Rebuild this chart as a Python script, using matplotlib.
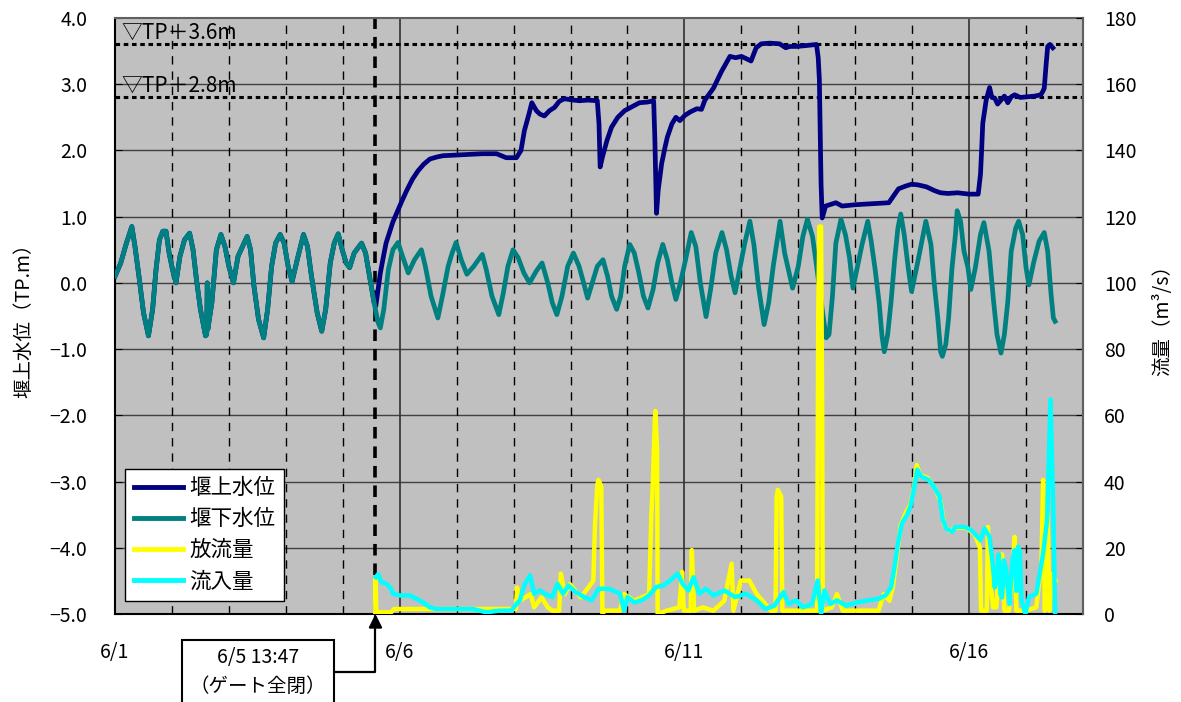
import matplotlib
matplotlib.use('Agg')
import matplotlib.pyplot as plt
from matplotlib.lines import Line2D

plt.rcParams['font.family'] = ['Noto Sans CJK JP', 'DejaVu Sans']

# time axis: days counted from 6/1 00:00
gate_close = 4 + (13 + 47 / 60) / 24   # 6/5 13:47

# 堰下水位 (TP.m)
down_t = [0.00, 0.10, 0.20, 0.295, 0.35, 0.42, 0.50, 0.587, 0.66, 0.72, 0.78, 0.84, 0.895, 0.95,
          1.01, 1.07, 1.14, 1.22, 1.31, 1.37, 1.43, 1.50, 1.59, 1.61, 1.62, 1.63, 1.70, 1.78, 1.86,
          1.93, 2.00, 2.08, 2.16, 2.24, 2.32, 2.38, 2.44, 2.52, 2.61, 2.68, 2.75, 2.82, 2.90, 2.97,
          3.04, 3.11, 3.20, 3.31, 3.38, 3.45, 3.55, 3.63, 3.70, 3.78, 3.85, 3.92, 3.99, 4.06, 4.12,
          4.20, 4.33, 4.40, 4.47, 4.55, 4.62, 4.66, 4.72, 4.80, 4.88, 4.97, 5.05, 5.15, 5.26, 5.38,
          5.45, 5.55, 5.67, 5.75, 5.85, 5.92, 5.99, 6.08, 6.18, 6.30, 6.45, 6.52, 6.62, 6.74, 6.82,
          6.90, 6.99, 7.08, 7.18, 7.28, 7.40, 7.50, 7.60, 7.68, 7.76, 7.85, 7.95, 8.05, 8.15, 8.23,
          8.30, 8.40, 8.47, 8.57, 8.65, 8.72, 8.81, 8.88, 8.95, 9.04, 9.12, 9.20, 9.28, 9.36, 9.45,
          9.53, 9.62, 9.70, 9.78, 9.85, 9.93, 10.02, 10.12, 10.20, 10.28, 10.38, 10.46, 10.55, 10.66,
          10.74, 10.82, 10.89, 10.98, 11.06, 11.15, 11.22, 11.30, 11.40, 11.48, 11.56, 11.68, 11.76,
          11.90, 12.00, 12.08, 12.16, 12.25, 12.33, 12.42, 12.49, 12.54, 12.60, 12.66, 12.75, 12.83,
          12.90, 12.96, 13.04, 13.12, 13.22, 13.28, 13.35, 13.42, 13.47, 13.51, 13.57, 13.63, 13.69,
          13.75, 13.80, 13.86, 13.93, 13.99, 14.09, 14.17, 14.24, 14.33, 14.39, 14.45, 14.50, 14.53,
          14.59, 14.64, 14.70, 14.76, 14.79, 14.85, 14.91, 14.98, 15.03, 15.11, 15.20, 15.26, 15.35,
          15.43, 15.49, 15.56, 15.62, 15.68, 15.74, 15.82, 15.87, 15.94, 16.00, 16.05, 16.14, 16.23,
          16.32, 16.38, 16.44, 16.48, 16.51]
down_lv = [0.10, 0.30, 0.60, 0.85, 0.55, 0.10, -0.45, -0.80, -0.40, 0.20, 0.65, 0.78, 0.78, 0.45,
           0.20, 0.00, 0.40, 0.65, 0.75, 0.50, 0.05, -0.40, -0.80, -0.78, 0.00, -0.70, -0.30, 0.50, 0.73,
           0.55, 0.25, 0.00, 0.40, 0.55, 0.70, 0.50, -0.05, -0.55, -0.83, -0.40, 0.25, 0.60, 0.73, 0.60,
           0.25, 0.02, 0.35, 0.73, 0.55, 0.10, -0.45, -0.73, -0.40, 0.30, 0.60, 0.74, 0.50, 0.30, 0.23,
           0.45, 0.60, 0.45, 0.10, -0.30, -0.60, -0.68, -0.40, 0.20, 0.50, 0.61, 0.40, 0.15, 0.35, 0.50,
           0.25, -0.20, -0.53, -0.20, 0.25, 0.45, 0.61, 0.35, 0.13, 0.25, 0.43, 0.20, -0.20, -0.48, -0.15,
           0.25, 0.50, 0.38, 0.15, 0.00, 0.18, 0.30, 0.00, -0.30, -0.48, -0.20, 0.25, 0.45, 0.25, 0.00,
           -0.23, 0.05, 0.25, 0.35, 0.10, -0.20, -0.40, -0.20, 0.25, 0.58, 0.45, 0.15, -0.20, -0.38, -0.10,
           0.30, 0.58, 0.35, 0.00, -0.25, 0.00, 0.35, 0.76, 0.55, 0.00, -0.51, -0.10, 0.45, 0.76,
           0.50, 0.10, -0.15, 0.25, 0.60, 0.93, 0.58, -0.05, -0.63, -0.30, 0.25, 0.93, 0.45,
           -0.08, 0.25, 0.70, 0.96, 0.70, 0.20, -0.40, -0.83, -0.78, -0.20, 0.60, 0.96, 0.72,
           0.38, -0.08, 0.25, 0.58, 0.93, 0.63, 0.20, -0.30, -0.80, -1.04, -0.78, -0.28, 0.33,
           0.83, 1.04, 0.73, 0.23, -0.13, 0.28, 0.63, 0.93, 0.58, -0.03, -0.53, -1.04, -1.11,
           -0.93, -0.53, 0.23, 0.73, 1.09, 0.93, 0.48, 0.23, -0.10, 0.23, 0.73, 0.91, 0.48,
           -0.28, -0.78, -1.06, -0.78, -0.28, 0.48, 0.83, 0.93, 0.73, 0.23, -0.03, 0.33, 0.63,
           0.76, 0.48, -0.18, -0.53, -0.58]

# 堰上水位 after the gate closed (before that it equals 堰下水位)
up_t_after = [4.58, 4.62, 4.66, 4.71, 4.76, 4.82, 4.88, 4.94, 5.03, 5.12, 5.22, 5.32, 5.42, 5.53,
              5.65, 5.76, 6.00, 6.23, 6.45, 6.70, 6.87, 7.05, 7.13, 7.19, 7.27, 7.32, 7.40, 7.46,
              7.54, 7.63, 7.72, 7.80, 7.89, 8.05, 8.16, 8.30, 8.47, 8.50, 8.52, 8.56, 8.64, 8.72,
              8.83, 8.95, 9.08, 9.21, 9.35, 9.46, 9.48, 9.51, 9.54, 9.60, 9.66, 9.70, 9.78, 9.85,
              9.92, 10.01, 10.10, 10.22, 10.30, 10.36, 10.51, 10.65, 10.80, 10.90, 11.00, 11.10,
              11.17, 11.26, 11.35, 11.50, 11.67, 11.78, 11.85, 11.96, 12.10, 12.32, 12.35, 12.37,
              12.39, 12.40, 12.42, 12.48, 12.55, 12.66, 12.77, 13.00, 13.20, 13.41, 13.59, 13.68,
              13.76, 13.88, 13.99, 14.10, 14.25, 14.40, 14.50, 14.63, 14.80, 15.00, 15.16, 15.20,
              15.22, 15.24, 15.30, 15.36, 15.40, 15.45, 15.50, 15.56, 15.62, 15.68, 15.74, 15.80,
              15.90, 16.03, 16.15, 16.26, 16.30, 16.32, 16.35, 16.38, 16.42, 16.47]
up_lv_after = [-0.35, -0.10, 0.15, 0.38, 0.60, 0.76, 0.92, 1.04, 1.22, 1.39, 1.56, 1.69, 1.79, 1.87,
               1.90, 1.92, 1.93, 1.94, 1.95, 1.95, 1.89, 1.89, 2.00, 2.30, 2.55, 2.72, 2.60, 2.55,
               2.52, 2.60, 2.65, 2.74, 2.78, 2.76, 2.75, 2.76, 2.75, 2.40, 1.75, 1.90, 2.15, 2.35,
               2.50, 2.60, 2.66, 2.72, 2.73, 2.75, 2.20, 1.05, 1.40, 1.80, 2.05, 2.20, 2.40, 2.50,
               2.45, 2.53, 2.58, 2.63, 2.62, 2.76, 2.94, 3.19, 3.42, 3.40, 3.42, 3.38,
               3.35, 3.55, 3.61, 3.62, 3.61, 3.55, 3.57, 3.57, 3.58, 3.60, 3.40, 3.07,
               2.00, 1.49, 0.98, 1.16, 1.18, 1.21, 1.16, 1.18, 1.19, 1.20, 1.21, 1.32,
               1.42, 1.46, 1.49, 1.48, 1.45, 1.39, 1.36, 1.35, 1.36, 1.34, 1.34, 1.64,
               2.00, 2.41, 2.76, 2.95, 2.80, 2.79, 2.70, 2.76, 2.82, 2.72, 2.81, 2.84,
               2.80, 2.81, 2.82, 2.84, 2.90, 2.94, 3.27, 3.57, 3.60, 3.55]

# 放流量 (m3/s)
out_t = [4.57, 4.575, 4.59, 4.85, 4.90, 7.04, 7.06, 7.11, 7.30, 7.36, 7.49, 7.60, 7.68, 7.80, 7.83,
         7.90, 7.99, 8.18, 8.40, 8.43, 8.47, 8.49, 8.54, 8.56, 8.60, 8.87, 8.94, 9.12, 9.38, 9.42,
         9.44, 9.48, 9.49, 9.52, 9.53, 9.69, 9.91, 9.96, 9.99, 10.11, 10.13, 10.17, 10.32, 10.51,
         10.70, 10.83, 10.86, 10.99, 11.14, 11.27, 11.52, 11.60, 11.62, 11.64, 11.70, 11.72, 12.25,
         12.33, 12.35, 12.37, 12.40, 12.42, 12.43, 12.59, 12.68, 12.78, 13.41, 13.50, 13.60, 13.66,
         13.72, 13.80, 13.90, 13.97, 14.04, 14.08, 14.14, 14.28, 14.40, 14.50, 14.56, 14.66, 14.76,
         14.95, 15.10, 15.19, 15.21, 15.31, 15.33, 15.37, 15.42, 15.48, 15.52, 15.58, 15.62, 15.70,
         15.76, 15.80, 15.83, 15.99, 16.18, 16.27, 16.30, 16.33, 16.38, 16.41, 16.46, 16.52]
out_q = [0.0, 11.0, 0.5, 0.5, 1.5, 1.5, 8.0, 4.0, 6.0, 2.0, 5.0, 2.0, 1.0, 1.0, 12.2,
         6.0, 9.0, 5.0, 10.0, 27.0, 39.0, 40.5, 38.5, 0.0, 1.0, 1.0, 6.0, 4.0, 6.0, 30.0,
         37.5, 58.0, 61.3, 50.0, 0.0, 1.0, 2.0, 12.7, 1.0, 1.0, 19.3, 1.0, 2.0, 1.0,
         4.0, 15.2, 1.0, 10.1, 10.1, 6.0, 1.0, 1.0, 35.0, 37.5, 35.5, 1.0, 1.0,
         1.0, 90.0, 117.0, 117.0, 60.0, 1.0, 2.0, 6.0, 1.0, 1.0, 6.0, 4.0, 8.0,
         16.0, 27.0, 31.0, 33.0, 39.0, 45.0, 42.0, 41.0, 38.0, 34.0, 27.0, 25.0, 26.0,
         26.0, 24.0, 20.0, 1.0, 1.0, 26.3, 10.0, 2.0, 2.0, 15.0, 18.0, 1.0, 1.0,
         12.0, 23.3, 1.0, 1.0, 2.0, 15.0, 40.5, 1.0, 30.0, 1.0, 12.0, 10.0]

# 流入量 (m3/s)
in_t = [4.58, 4.62, 4.68, 4.77, 4.85, 4.88, 5.00, 5.18, 5.29, 5.41, 5.53, 5.64, 6.05, 6.29, 6.52,
        6.75, 6.96, 7.05, 7.11, 7.16, 7.20, 7.29, 7.36, 7.46, 7.55, 7.68, 7.77, 7.87, 7.96, 8.09,
        8.24, 8.37, 8.49, 8.68, 8.87, 8.94, 9.00, 9.12, 9.25, 9.38, 9.50, 9.63, 9.75, 9.88, 9.97,
        10.07, 10.16, 10.26, 10.38, 10.51, 10.70, 10.89, 11.08, 11.27, 11.42, 11.58, 11.74, 11.83,
        11.96, 12.08, 12.24, 12.34, 12.40, 12.46, 12.56, 12.68, 12.84, 13.03, 13.22, 13.41, 13.53,
        13.63, 13.69, 13.75, 13.82, 13.91, 13.97, 14.04, 14.09, 14.16, 14.29, 14.38, 14.48, 14.54,
        14.60, 14.70, 14.76, 14.92, 15.04, 15.20, 15.27, 15.36, 15.42, 15.45, 15.49, 15.52, 15.55,
        15.58, 15.61, 15.64, 15.68, 15.71, 15.74, 15.77, 15.80, 15.83, 15.86, 15.89, 15.92, 15.99,
        16.05, 16.18, 16.30, 16.37, 16.43, 16.48, 16.51]
in_q = [11.1, 12.0, 9.6, 9.1, 7.6, 6.1, 5.6, 5.6, 4.6, 3.5, 2.0, 1.5, 1.5, 1.5, 0.5,
        1.0, 1.0, 3.0, 4.1, 7.1, 9.1, 11.7, 6.1, 7.1, 6.1, 5.1, 9.1, 6.1, 8.6, 6.6,
        5.1, 4.1, 7.6, 7.6, 6.1, 1.0, 5.1, 3.5, 4.1, 5.6, 8.1, 8.6, 10.1, 12.2, 9.1,
        7.1, 11.1, 6.1, 7.6, 5.6, 7.1, 5.1, 6.1, 4.1, 1.5, 2.5, 6.6, 3.0,
        4.1, 2.0, 3.0, 10.1, 0.0, 7.1, 3.0, 4.1, 2.5, 3.5, 4.1, 4.6, 5.6,
        8.1, 14.2, 21.3, 27.4, 29.9, 32.4, 38.5, 43.6, 41.5, 40.5, 38.5, 35.5, 28.4,
        25.8, 24.8, 26.3, 26.3, 25.3, 22.3, 25.8, 23.3, 14.2, 8.0, 11.1, 18.0, 6.1,
        5.0, 16.2, 14.0, 8.1, 3.0, 12.0, 17.0, 19.3, 7.0, 20.3, 19.0, 4.1, 0.0,
        5.1, 6.1, 18.2, 28.4, 64.8, 30.4, 0.0]

date_ticks = [0, 5, 10, 15]
date_labels = ['6/1', '6/6', '6/11', '6/16']
mark_levels = [3.6, 2.8]
mark_labels = ['▽TP＋3.6m', '▽TP＋2.8m']

# upstream level: same as downstream until the gate closed
pre = [i for i, t in enumerate(down_t) if t < gate_close]
up_t = [down_t[i] for i in pre] + up_t_after
up_lv = [down_lv[i] for i in pre] + up_lv_after

fig = plt.figure(figsize=(11.81, 7.02), dpi=100)
ax = fig.add_axes([0.0974, 0.1254, 0.8196, 0.849])
ax.set_facecolor('#C0C0C0')

# grid: solid every 1.0 m and every 5 days, dashed for each day
for v in range(-4, 4):
    ax.axhline(v, color='#404040', lw=1, zorder=1)
for d in range(1, 17):
    if d % 5 == 0:
        ax.axvline(d, color='#303030', lw=1.2, zorder=1)
    else:
        ax.axvline(d, color='black', lw=1, linestyle=(0, (6, 5)), zorder=1)

for lv, lab in zip(mark_levels, mark_labels):
    ax.axhline(lv, color='black', lw=2.2, linestyle=(0, (1.5, 1.2)), zorder=2)
    ax.text(0.12, lv + 0.01, lab, fontsize=15, va='bottom', ha='left', zorder=3)

ax.axvline(gate_close, color='black', lw=2.6, linestyle=(0, (3.2, 2.2)), zorder=2)

ax.plot(up_t, up_lv, color='#000080', lw=3.4, zorder=4, solid_joinstyle='round')
ax.plot(down_t, down_lv, color='#008080', lw=3.4, zorder=5, solid_joinstyle='round')

ax.set_xlim(0, 17)
ax.set_ylim(-5, 4)
ax.set_yticks(range(-5, 5))
ax.set_yticklabels([f'{v:.1f}'.replace('-', '\u2212') for v in range(-5, 5)])
ax.set_xticks(date_ticks)
ax.set_xticklabels(date_labels)
ax.tick_params(axis='x', length=0, pad=20, labelsize=14)
ax.tick_params(axis='y', direction='in', length=5, pad=20, labelsize=14)
ax.set_ylabel('堰上水位（TP.m）', fontsize=14)
ax.yaxis.set_label_coords(-0.083, 0.5)

for side in ['left', 'bottom']:
    ax.spines[side].set_color('black')
    ax.spines[side].set_linewidth(1.5)
for side in ['top', 'right']:
    ax.spines[side].set_color('#606060')
    ax.spines[side].set_linewidth(1.5)

ax2 = ax.twinx()
ax2.plot(out_t, out_q, color='#FFFF00', lw=3.2, zorder=3)
ax2.plot(in_t, in_q, color='#00FFFF', lw=3.2, zorder=4)
ax2.set_ylim(0, 180)
ax2.set_yticks(range(0, 181, 20))
ax2.tick_params(axis='y', direction='in', length=5, pad=15, labelsize=14)
ax2.set_ylabel('流量（m³/s）', fontsize=14)
ax2.yaxis.set_label_coords(1.072, 0.5)
for side in ['left', 'bottom']:
    ax2.spines[side].set_visible(False)
ax2.spines['right'].set_color('#606060')
ax2.spines['right'].set_linewidth(1.5)
ax2.spines['top'].set_visible(False)

handles = [Line2D([], [], color=c, lw=3.5) for c in ['#000080', '#008080', '#FFFF00', '#00FFFF']]
leg = ax2.legend(handles, ['堰上水位', '堰下水位', '放流量', '流入量'],
                 loc='lower left', bbox_to_anchor=(0.0103, 0.022), borderaxespad=0,
                 fontsize=15.5, handlelength=2.3, labelspacing=0.42, borderpad=0.4,
                 handletextpad=0.3, fancybox=False, framealpha=1, edgecolor='black')
leg.get_frame().set_linewidth(1.0)

ax2.annotate('6/5 13:47\n（ゲート全閉）', xy=(gate_close, 0), xycoords='data',
             xytext=(258, 30), textcoords='figure pixels', ha='center', va='center',
             fontsize=14, linespacing=1.45, annotation_clip=False,
             bbox=dict(boxstyle='square,pad=0.4', fc='white', ec='black', lw=1.5),
             arrowprops=dict(arrowstyle='-|>', mutation_scale=20, color='black', lw=1.6,
                             connectionstyle='angle,angleA=0,angleB=90,rad=0',
                             shrinkA=0, shrinkB=0))

fig.savefig('out.png', dpi=100)
